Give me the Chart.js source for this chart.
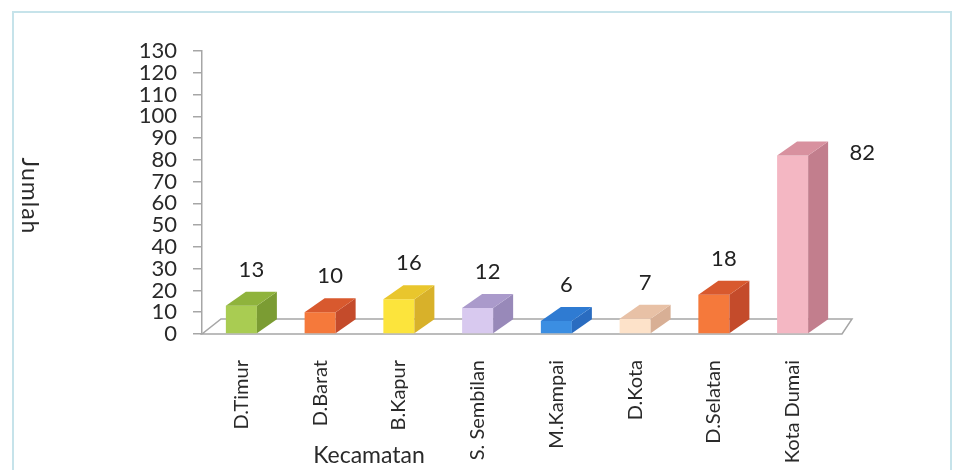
<!DOCTYPE html>
<html>
<head>
<meta charset="utf-8">
<script src="https://cdn.jsdelivr.net/npm/chart.js@4.4.1/dist/chart.umd.min.js"></script>
<style>
  html, body { margin: 0; padding: 0; background: #ffffff; }
  #wrap { position: relative; width: 955px; height: 470px; }
  canvas { display: block; }
</style>
</head>
<body>
<div id="wrap"><canvas id="chart" width="955" height="470"></canvas></div>
<script>
// Jumlah per kecamatan
const kecamatan = ['D.Timur', 'D.Barat', 'B.Kapur', 'S. Sembilan', 'M.Kampai', 'D.Kota', 'D.Selatan', 'Kota Dumai'];
const jumlah = [13, 10, 16, 12, 6, 7, 18, 82];
const yMin = 0;
const yMax = 130;
const yStep = 10;

// Box colours: front face, top face, right side face
const frontColors = ['#a9cc52', '#f5793b', '#fce43c', '#d8c9ef', '#3b8ee2', '#fde2c9', '#f5793b', '#f4b7c3'];
const topColors   = ['#8fb33c', '#d8592e', '#e9c62d', '#aa9acb', '#2f7bd2', '#e8c1a6', '#d8592e', '#d8919f'];
const sideColors  = ['#7b9c33', '#c44b2b', '#d8b12a', '#9889b9', '#2a6cc0', '#d8af95', '#c44b2b', '#c27e8d'];

const FONT = 'Lato, "Open Sans", "DejaVu Sans", sans-serif';
const TEXT = '#2a2a2a';
const LINE = '#a6a6a6';

// depth of the boxes and of the floor
const BOX = { dx: 20, dy: -14 };
const FLOOR = { leftShift: 19, rightShift: 10, rise: 15, overhang: 10 };

const box3d = {
  id: 'box3d',
  beforeDraw(chart) {
    // outer frame
    const ctx = chart.ctx;
    ctx.save();
    ctx.strokeStyle = '#c6e3ea';
    ctx.lineWidth = 2;
    ctx.beginPath();
    ctx.moveTo(13, chart.height + 2);
    ctx.lineTo(13, 12);
    ctx.lineTo(951, 12);
    ctx.lineTo(951, chart.height + 2);
    ctx.stroke();
    ctx.restore();
  },
  beforeDatasetsDraw(chart) {
    // floor of the plot
    const ctx = chart.ctx;
    const a = chart.chartArea;
    const base = chart.scales.y.getPixelForValue(0);
    const L = a.left, R = a.right + FLOOR.overhang;
    ctx.save();
    ctx.fillStyle = '#ffffff';
    ctx.strokeStyle = LINE;
    ctx.lineWidth = 1.5;
    ctx.beginPath();
    ctx.moveTo(L, base);
    ctx.lineTo(R, base);
    ctx.lineTo(R + FLOOR.rightShift, base - FLOOR.rise);
    ctx.lineTo(L + FLOOR.leftShift, base - FLOOR.rise);
    ctx.closePath();
    ctx.fill();
    ctx.stroke();
    ctx.restore();
  },
  afterDatasetsDraw(chart) {
    const ctx = chart.ctx;
    const meta = chart.getDatasetMeta(0);
    const values = chart.data.datasets[0].data;
    const tallest = values.indexOf(Math.max(...values));
    ctx.save();
    meta.data.forEach((bar, i) => {
      const { x, y, base, width } = bar.getProps(['x', 'y', 'base', 'width'], true);
      const x1 = x - width / 2, x2 = x + width / 2;
      // right side face
      ctx.fillStyle = sideColors[i];
      ctx.beginPath();
      ctx.moveTo(x2, y);
      ctx.lineTo(x2 + BOX.dx, y + BOX.dy);
      ctx.lineTo(x2 + BOX.dx, base + BOX.dy);
      ctx.lineTo(x2, base);
      ctx.closePath();
      ctx.fill();
      // top face
      ctx.fillStyle = topColors[i];
      ctx.beginPath();
      ctx.moveTo(x1, y);
      ctx.lineTo(x1 + BOX.dx, y + BOX.dy);
      ctx.lineTo(x2 + BOX.dx, y + BOX.dy);
      ctx.lineTo(x2, y);
      ctx.closePath();
      ctx.fill();

      // value label
      ctx.fillStyle = '#222222';
      ctx.font = '22px ' + FONT;
      ctx.textBaseline = 'middle';
      ctx.textAlign = 'center';
      if (i === tallest) {
        ctx.fillText(String(values[i]), x2 + BOX.dx + 34, y - 3);
      } else {
        ctx.fillText(String(values[i]), x + BOX.dx / 2, y + BOX.dy - 22);
      }
    });
    ctx.restore();
  },
  afterDraw(chart) {
    // axis titles
    const ctx = chart.ctx;
    ctx.save();
    ctx.fillStyle = TEXT;
    ctx.textAlign = 'center';
    ctx.textBaseline = 'middle';
    ctx.font = '23px ' + FONT;
    ctx.letterSpacing = '1px';
    ctx.translate(29, 196);
    ctx.rotate(Math.PI / 2);
    ctx.fillText('Jumlah', 0, 0);
    ctx.restore();

    ctx.save();
    ctx.fillStyle = TEXT;
    ctx.textAlign = 'center';
    ctx.textBaseline = 'middle';
    ctx.font = '23px ' + FONT;
    ctx.fillText('Kecamatan', 369, 456);
    ctx.restore();
  }
};

new Chart(document.getElementById('chart'), {
  type: 'bar',
  data: {
    labels: kecamatan,
    datasets: [{
      data: jumlah,
      backgroundColor: frontColors,
      borderWidth: 0,
      barPercentage: 0.394,
      categoryPercentage: 1
    }]
  },
  options: {
    responsive: false,
    animation: false,
    devicePixelRatio: 1,
    layout: { padding: { left: 0, top: 51, right: 123, bottom: 0 } },
    plugins: { legend: { display: false }, tooltip: { enabled: false } },
    scales: {
      x: {
        grid: { display: false },
        border: { display: false },
        ticks: {
          minRotation: 90, maxRotation: 90, autoSkip: false, padding: 18,
          color: TEXT, font: { family: FONT, size: 20 }
        },
        afterFit(scale) { scale.height = 136; }
      },
      y: {
        min: yMin, max: yMax,
        ticks: {
          stepSize: yStep, autoSkip: false, padding: 16,
          color: TEXT, font: { family: FONT, size: 22 }
        },
        grid: { drawOnChartArea: false, tickLength: 9, color: LINE, lineWidth: 1.5 },
        border: { color: LINE, width: 1.5 },
        afterFit(scale) { scale.width = 202; }
      }
    }
  },
  plugins: [box3d]
});
</script>
</body>
</html>
